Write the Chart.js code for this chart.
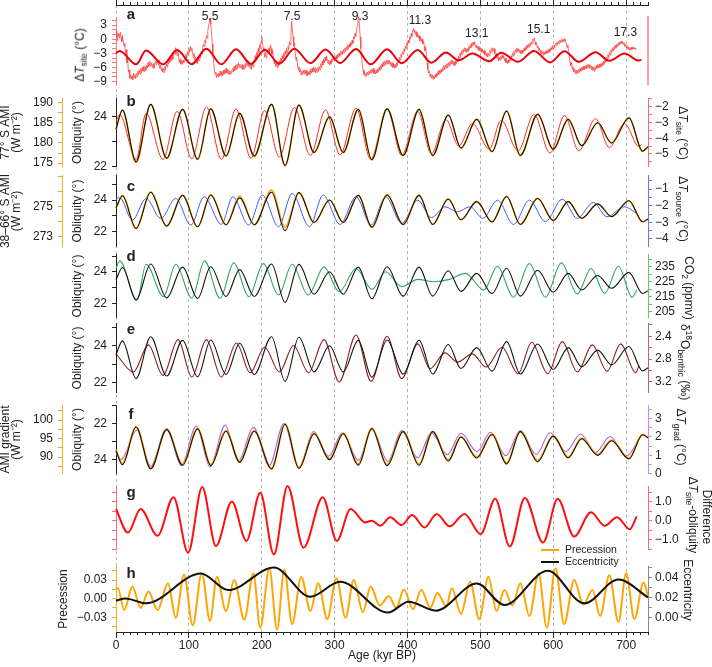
<!DOCTYPE html>
<html>
<head>
<meta charset="utf-8">
<script src="https://cdn.jsdelivr.net/npm/chart.js@4.4.1/dist/chart.umd.min.js"></script>
<style>
html, body { margin: 0; padding: 0; background: #fff; }
#fig { position: relative; width: 712px; height: 667px; overflow: hidden; font-family: "Liberation Sans", Arial, sans-serif; color: #222; }
#fig canvas { position: absolute; left: 0; }
.t { position: absolute; white-space: nowrap; font-size: 12px; line-height: 1; z-index: 3; }
.rl { transform: translate(-50%, -50%) rotate(-90deg); }
.rr { transform: translate(-50%, -50%) rotate(90deg); }
.t sub { font-size: 8.5px; vertical-align: -3px; }
.t sup { font-size: 8.5px; vertical-align: 5px; }
.lab { position: absolute; font-weight: bold; font-size: 15px; line-height: 1; transform: translate(-50%, -50%); z-index: 3; }
.leg { position: absolute; height: 2px; width: 18px; z-index: 3; }
</style>
</head>
<body>
<div id="fig">
  <div class="lab" style="left:131px;top:13px">a</div>
  <div class="lab" style="left:131px;top:100px">b</div>
  <div class="lab" style="left:131px;top:185px">c</div>
  <div class="lab" style="left:131px;top:255px">d</div>
  <div class="lab" style="left:131px;top:328px">e</div>
  <div class="lab" style="left:131px;top:413px">f</div>
  <div class="lab" style="left:131px;top:491px">g</div>
  <div class="lab" style="left:131px;top:572px">h</div>

  <div class="t rl" style="left:81px;top:55px">Δ<i>T</i><sub>site</sub> (°C)</div>
  <div class="t rr" style="left:682px;top:133px">Δ<i>T</i><sub>site</sub> (°C)</div>
  <div class="t rr" style="left:682px;top:209px">Δ<i>T</i><sub>source</sub> (°C)</div>
  <div class="t rr" style="left:688px;top:288px">CO<sub>2</sub> (ppmv)</div>
  <div class="t rr" style="left:685px;top:362px">δ<sup>18</sup>O<sub>benthic</sub> (‰)</div>
  <div class="t rr" style="left:680px;top:437px">Δ<i>T</i><sub>grad</sub> (°C)</div>
  <div class="t rr" style="left:707px;top:517px">Difference</div>
  <div class="t rr" style="left:692px;top:515px">Δ<i>T</i><sub>site</sub>-obliquity</div>
  <div class="t rr" style="left:688px;top:590px">Eccentricity</div>

  <div class="leg" style="left:541px;top:549px;background:#ffa500"></div>
  <div class="t" style="left:565px;top:544px;font-size:10.5px">Precession</div>
  <div class="leg" style="left:541px;top:561px;background:#111"></div>
  <div class="t" style="left:565px;top:556px;font-size:10.5px">Eccentricity</div>
</div>
<script>
// ---------- data (age in kyr BP) ----------

// panel a: site temperature anomaly, one value per kyr from 0 kyr
const dTsite = [
  0.5,1.8,-0.3,1.2,0.6,0.2,1.5,0.4,-0.5,0.8,
  -0.6,-1.5,-0.8,-3.0,-2.2,-5.0,-4.2,-7.0,-6.5,-8.3,
  -7.6,-8.5,-7.8,-8.6,-7.2,-8.2,-7.5,-8.4,-7.3,-8.0,
  -6.8,-7.6,-6.5,-7.5,-6.2,-7.2,-6.0,-6.8,-5.8,-6.9,
  -5.8,-6.6,-5.5,-6.1,-5.0,-5.8,-4.7,-5.7,-4.9,-5.5,
  -6.0,-5.2,-6.2,-5.4,-4.7,-5.4,-4.2,-5.1,-4.4,-5.5,
  -6.2,-5.5,-6.7,-6.0,-7.0,-6.2,-7.1,-5.8,-6.5,-5.2,
  -5.9,-4.6,-5.3,-4.1,-4.9,-3.8,-4.6,-3.4,-4.3,-2.9,
  -2.3,-3.2,-1.8,-2.8,-3.5,-2.6,-4.0,-5.0,-4.2,-5.3,
  -4.6,-5.4,-4.5,-5.0,-3.8,-4.5,-3.2,-4.0,-2.6,-3.3,
  -2.0,-2.8,-1.5,-2.5,-1.8,-3.0,-3.8,-3.0,-4.5,-3.8,
  -5.0,-4.2,-5.2,-4.0,-4.6,-3.4,-3.9,-2.6,-3.2,-1.8,
  -1.0,-1.6,-0.2,-0.8,0.8,0.2,1.8,2.8,3.5,4.5,
  3.2,1.5,-1.0,-3.0,-5.0,-6.5,-7.5,-7.0,-8.2,-7.4,
  -8.0,-7.2,-7.9,-6.8,-7.7,-7.0,-7.8,-6.6,-7.5,-6.5,
  -7.3,-6.2,-7.2,-6.4,-7.4,-6.6,-7.6,-6.8,-7.3,-6.6,
  -6.2,-7.0,-5.8,-6.7,-5.5,-6.4,-5.3,-6.2,-5.0,-6.0,
  -5.3,-5.9,-6.2,-5.4,-6.5,-5.6,-6.3,-5.2,-6.0,-4.8,
  -5.6,-4.5,-5.8,-5.0,-6.2,-5.5,-6.4,-5.2,-5.9,-4.5,
  -5.0,-3.5,-4.2,-2.8,-3.5,-2.0,-2.8,-1.2,-2.0,-0.5,
  0.5,-0.8,-1.8,-2.5,-3.8,-2.8,-4.0,-3.0,-2.2,-3.0,
  -1.8,-2.6,-1.2,-2.0,-3.2,-2.4,-4.0,-5.2,-4.5,-5.8,
  -5.0,-6.0,-5.2,-5.8,-4.6,-5.3,-4.0,-4.8,-3.5,-4.2,
  -3.0,-3.8,-2.5,-3.2,-2.0,-2.8,-1.5,-2.2,-0.5,-1.2,
  1.0,3.8,2.0,0.5,-1.5,-0.8,-3.0,-4.5,-3.8,-5.5,
  -6.5,-5.8,-7.0,-6.3,-7.6,-6.8,-7.5,-6.6,-7.4,-6.5,
  -7.3,-6.6,-7.8,-7.0,-7.6,-6.8,-7.5,-6.4,-7.2,-6.2,
  -7.0,-6.0,-6.8,-6.0,-7.2,-6.3,-7.0,-6.0,-6.8,-5.8,
  -6.5,-5.2,-6.0,-4.6,-5.5,-4.2,-5.0,-3.8,-4.6,-3.5,
  -4.5,-5.2,-4.4,-5.5,-4.6,-5.3,-4.2,-4.8,-3.6,-4.4,
  -3.8,-4.5,-3.5,-4.2,-3.2,-3.9,-3.0,-3.6,-2.6,-3.3,
  -2.5,-3.2,-2.2,-2.9,-1.9,-2.6,-1.6,-2.3,-1.2,-2.0,
  -1.0,-1.7,-0.6,-1.3,-0.2,-0.9,0.5,0.0,1.2,0.6,
  2.0,3.0,4.0,4.8,3.2,0.5,-2.0,-4.0,-5.5,-6.5,
  -7.5,-6.8,-8.0,-7.2,-7.8,-7.0,-7.6,-6.8,-7.4,-6.5,
  -7.2,-6.4,-7.0,-6.2,-7.3,-6.5,-7.4,-6.6,-7.2,-6.3,
  -7.0,-6.0,-6.6,-5.6,-6.3,-5.2,-5.9,-4.8,-5.6,-4.6,
  -5.4,-4.5,-5.3,-4.4,-5.2,-4.5,-5.4,-4.8,-5.8,-5.0,
  -6.0,-5.2,-6.2,-5.4,-6.0,-5.0,-5.6,-4.4,-5.0,-3.8,
  -4.4,-3.2,-3.8,-2.6,-3.2,-2.0,-2.6,-1.4,-2.0,-0.8,
  -1.4,-0.2,-0.8,0.5,0.0,1.2,0.6,1.8,2.3,1.5,
  2.0,1.0,1.6,0.5,1.2,0.2,0.8,-0.3,0.4,-0.6,
  0.1,-1.0,-0.4,-1.5,-2.5,-1.8,-3.5,-5.0,-6.5,-7.2,
  -6.8,-8.0,-7.4,-8.3,-7.6,-8.5,-7.8,-8.4,-7.5,-8.1,
  -7.2,-7.8,-6.8,-7.5,-6.6,-7.3,-6.4,-7.0,-6.0,-6.6,
  -5.6,-6.4,-5.5,-6.2,-5.2,-6.0,-5.0,-5.8,-4.8,-5.4,
  -4.5,-5.2,-4.6,-5.5,-4.8,-5.6,-4.6,-5.2,-4.2,-4.8,
  -3.6,-4.3,-3.0,-3.7,-2.5,-3.2,-2.2,-2.8,-1.8,-2.6,
  -1.9,-2.8,-2.0,-2.6,-1.6,-2.2,-1.2,-1.8,-0.8,-1.5,
  -0.6,-1.2,-0.5,-1.4,-1.8,-1.2,-2.0,-1.5,-2.4,-1.8,
  -2.6,-2.0,-2.8,-2.2,-3.0,-2.4,-3.3,-2.6,-3.6,-2.9,
  -3.8,-3.0,-3.5,-2.4,-3.0,-2.0,-2.6,-1.8,-2.5,-2.0,
  -3.0,-3.6,-3.0,-4.2,-3.6,-4.6,-3.8,-4.5,-3.6,-4.2,
  -3.4,-4.0,-3.5,-4.6,-4.0,-5.0,-4.3,-5.2,-4.4,-5.0,
  -4.0,-4.6,-3.5,-4.0,-3.0,-3.6,-2.6,-3.2,-2.2,-2.8,
  -1.9,-2.6,-2.0,-2.8,-2.2,-3.0,-2.4,-3.1,-2.3,-2.8,
  -1.9,-2.5,-1.6,-2.2,-1.3,-1.9,-1.0,-1.6,-0.8,-1.3,
  -0.5,-1.0,0.0,-0.3,0.3,-0.6,-1.2,-0.8,-1.8,-1.4,
  -2.4,-1.9,-2.9,-2.3,-3.2,-2.6,-3.4,-2.7,-3.3,-2.6,
  -3.1,-2.4,-3.0,-2.2,-2.8,-2.0,-2.6,-1.8,-2.2,-1.4,
  -2.0,-1.2,-1.8,-0.9,-1.4,-0.6,-1.1,-0.4,-0.9,-0.2,
  -0.7,-0.1,-0.6,0.0,-0.5,0.1,-0.4,-0.2,-0.9,-1.8,
  -1.2,-2.6,-3.8,-4.8,-5.6,-5.0,-6.4,-5.8,-7.0,-6.3,
  -7.3,-6.5,-7.4,-6.6,-7.2,-6.4,-7.0,-6.2,-6.8,-6.0,
  -6.6,-5.8,-6.5,-5.7,-6.4,-5.6,-6.2,-5.4,-6.0,-5.3,
  -6.2,-5.5,-6.4,-5.7,-6.6,-5.9,-6.8,-6.0,-6.5,-5.6,
  -6.2,-5.4,-6.1,-5.3,-6.0,-5.2,-5.8,-5.0,-5.6,-4.7,
  -5.3,-4.3,-4.9,-3.8,-4.4,-3.3,-3.9,-2.8,-3.4,-2.3,
  -2.9,-1.9,-2.5,-1.6,-2.2,-1.3,-1.9,-1.1,-1.6,-0.8,
  -1.3,-0.6,-1.0,-0.4,-0.9,-0.5,-1.1,-0.7,-1.5,-1.0,
  -1.8,-1.3,-2.1,-1.6,-2.3,-1.8,-2.3,-1.7,-2.2,-1.6,
  -2.0,-1.8,-2.1,-1.9,-2.2
];
const siteAge = dTsite.map((_, i) => i);

// interglacial labels in panel a
const peakNames = ['5.5', '7.5', '9.3', '11.3', '13.1', '15.1', '17.3'];
const peakAge = [129, 241.5, 335, 417, 495, 580, 699];

// obliquity turning points and the insolation series that follow it
const oblAge = [0, 8.8, 27.5, 47.6, 69.5, 91.4, 112, 130, 151, 169.7, 189.7, 213.5, 232, 251, 271.8, 293, 311.8,
  332.5, 351, 372, 394, 415.8, 434.6, 455.9, 473.4, 495, 516, 536, 554.8, 578.6, 600, 620.5, 639, 661, 680, 703.8, 722.6, 730];
const obliquity = [23.5, 24.27, 22.2, 24.5, 22.34, 24.3, 22.3, 24.32, 22.43, 24.14, 22.43, 24.5, 22.05, 24.47, 22.57, 24.0, 22.57,
  24.3, 22.28, 24.32, 22.45, 24.3, 22.45, 24.07, 22.75, 23.9, 22.61, 24.23, 22.45, 24.1, 22.7, 23.9, 22.84, 23.76, 22.95, 23.96, 22.62, 22.8];
const ami77 = [183.36, 188.13, 175.1, 189.56, 176.17, 188.32, 175.92, 188.44, 176.73, 187.33, 176.6, 189.56, 174.3, 189.37, 177.59, 186.46, 177.59,
  188.32, 175.8, 188.44, 176.85, 188.32, 176.85, 186.89, 178.71, 185.84, 177.84, 187.89, 176.85, 187.08, 178.4, 185.84, 179.27, 184.97, 179.95, 186.21, 177.9, 179.02];
const ami3866 = [274.91, 275.73, 273.54, 275.97, 273.69, 275.76, 273.64, 275.78, 273.78, 275.70, 273.78, 276.10, 273.62, 275.94, 273.93, 275.44, 273.93,
  275.76, 273.62, 275.78, 273.80, 275.76, 273.80, 275.51, 274.12, 275.33, 273.97, 275.68, 273.80, 275.55, 274.07, 275.33, 274.22, 275.19, 274.33, 275.40, 273.98, 274.17];
const amiGrad = [91.94, 88.26, 98.15, 87.0, 97.48, 88.12, 97.68, 88.02, 97.05, 88.88, 97.05, 86.9, 98.87, 87.2, 96.39, 89.55, 96.39,
  88.12, 97.77, 88.02, 96.96, 88.12, 96.96, 89.22, 95.52, 90.03, 96.19, 88.45, 96.96, 89.07, 95.76, 90.03, 95.09, 90.70, 94.57, 89.74, 96.15, 95.29];

// 41-kyr filtered site temperature (panels a, b)
const dtsAge = [0, 5, 27.6, 41.3, 64.5, 83.9, 104, 124, 144.6, 164.7, 185.3, 204, 224.2, 244.8, 266.8, 287.4, 307.5, 329.4, 349.4,
  372, 392, 414, 432.7, 452.7, 470.3, 489, 512.2, 528.5, 551.7, 573.6, 595.5, 615.5, 635, 658, 676.9, 697.6, 717.6, 721];
const dtsFilt = [-2.96, -2.49, -5.35, -2.41, -5.35, -2.29, -5.31, -2.0, -5.35, -2.14, -5.27, -2.24, -5.2, -2.04, -5.1, -2.2, -5.06, -2.08, -5.35,
  -2.14, -5.1, -2.29, -5.0, -2.82, -4.49, -3.06, -4.69, -2.86, -4.8, -2.49, -4.94, -2.55, -4.8, -2.76, -4.59, -3.06, -4.53, -4.4];

// panel c: source temperature
const srcAge = [0, 5, 22.5, 41.3, 61.4, 82, 102.7, 120.9, 144.6, 160.3, 182, 201, 223, 241.7, 265.5, 284.3, 307.5, 329.4, 350,
  370, 392, 414, 432.7, 451.5, 468.4, 486, 503.4, 523.5, 545.4, 567.3, 589.2, 612.4, 633, 655, 673.8, 697.6, 714.5];
const dtSource = [-1.6, -1.5, -2.86, -1.56, -2.76, -1.56, -3.16, -1.46, -3.12, -1.46, -3.16, -1.36, -3.26, -1.26, -3.26, -1.36, -3.12, -1.46, -3.16,
  -1.46, -3.06, -1.66, -2.72, -2.06, -2.36, -2.06, -2.76, -1.66, -3.12, -1.66, -2.96, -1.6, -2.76, -1.8, -2.66, -2.06, -2.46];

// panel d: CO2
const co2Age = [0, 5, 28.8, 41.3, 65.1, 82, 104, 121.5, 142.8, 161.6, 182.2, 202.3, 223, 241.7, 263.6, 285.5, 306.2, 329.4, 351.3,
  370, 392, 414, 435.8, 457.7, 479.6, 504.7, 523.5, 545.4, 567.3, 589.2, 611.1, 633, 651.8, 670.6, 689.4, 708.2, 714.5];
const co2 = [233.9, 239, 212.8, 236.8, 215, 236.8, 213.9, 239, 213.9, 237.7, 215, 237.2, 216.1, 236.8, 216.1, 235, 218.3, 233.9, 219.9,
  231.7, 221.7, 226.6, 225, 226.6, 230.6, 219.4, 235.4, 214.6, 237.2, 214.6, 237.7, 216.8, 233.9, 217.2, 235.4, 214.6, 219.4];

// panel e: benthic d18O
const d18Age = [0, 23.8, 44.5, 64.5, 85.2, 104, 124, 144.6, 165.3, 184, 204, 224.2, 243.6, 264.2, 285.5, 306.2, 329.4, 350, 372,
  392, 414, 430.8, 451.5, 468.4, 489, 507.8, 529.7, 551.7, 570.4, 592.4, 612.4, 633, 653.7, 673.8, 692.5, 713.2, 717.6];
const d18O = [2.707, 3.026, 2.55, 3.084, 2.458, 3.113, 2.458, 3.113, 2.516, 3.038, 2.591, 3.026, 2.562, 3.038, 2.458, 3.2, 2.377, 3.188, 2.4,
  3.142, 2.533, 2.968, 2.69, 2.852, 2.707, 2.939, 2.591, 3.055, 2.504, 3.055, 2.493, 3.026, 2.55, 3.014, 2.533, 3.038, 2.91];

// panel f: temperature gradient
const gradAge = [0, 6.9, 28.8, 47.6, 69.5, 89.5, 110.2, 129, 149.7, 167.8, 188.5, 210.4, 230.4, 251, 271.1, 291.8, 310.6, 332.5, 351.3,
  373.2, 392, 414, 432.7, 454.6, 473.4, 495.3, 514.1, 534.8, 554.8, 576.7, 595.5, 617.4, 637.4, 658.1, 678.1, 700, 720.7];
const dtGrad = [1.125, 0.77, 2.375, 0.41, 2.46, 0.45, 2.59, 0.375, 2.64, 0.68, 2.52, 0.45, 2.73, 0.32, 2.29, 0.95, 2.23, 0.73, 2.41,
  0.68, 2.34, 0.86, 2.23, 1.04, 2.2, 1.21, 2.25, 0.98, 2.34, 1.04, 2.23, 1.21, 2.16, 1.16, 2.02, 0.95, 2.1];

// panel g: site temperature minus obliquity
const diffAge = [0, 16.3, 33.8, 57, 78.9, 98.9, 118.3, 137.1, 159, 179, 197.9, 216.7, 235.4, 257.4, 283.7, 303, 321.9, 341.9, 351.3, 362.6,
  376.3, 392, 406.4, 423.3, 440.2, 457.7, 478.4, 500.3, 520.4, 540.4, 561, 586, 606.1, 628.7, 651.8, 670.6, 687.5, 705, 714.5];
const diffVal = [0.62, -0.63, 0.62, -0.8, 1.25, -1.7, 1.79, -1.34, 1.02, -1.07, 1.48, -1.79, 1.84, -1.43, 1.25, -1.07, 0.62, -0.09, 0.0, -0.27,
  0.18, -0.23, 0.3, -0.36, 0.36, -0.3, 0.36, -0.71, 1.16, -1.37, 1.21, -1.16, 1.16, -0.84, 0.45, -0.27, 0.18, -0.45, 0.23];

// panel h: precession and eccentricity
const precAge = [0, 2.5, 11.3, 22.5, 33.8, 44.5, 57, 71.4, 82, 93.3, 105.2, 117.7, 129, 138.4, 150.9, 162.2, 176, 188.5, 197.9, 210.4,
  221, 231, 241.7, 254.2, 266.8, 277.4, 289.9, 302.4, 315, 326.2, 338.8, 349.4, 361.9, 374.5, 384.5, 395.1, 407.6, 418.9, 431.4, 440.8,
  453.3, 460.9, 473.4, 485.9, 498.4, 511, 522.2, 532.9, 544.1, 554.8, 567.3, 579.8, 591.1, 603, 614.9, 628.7, 641.2, 653.7, 664.4, 676.9,
  689.4, 700, 711.3, 723.9, 730];
const precession = [0.016, 0.017, -0.0185, 0.0196, -0.015, 0.0116, -0.0185, 0.025, -0.031, 0.039, -0.043, 0.041, -0.036, 0.035, -0.02, 0.03, -0.034, 0.041, -0.047, 0.049,
  -0.05, 0.047, -0.041, 0.035, -0.02, 0.025, -0.033, 0.033, -0.031, 0.03, -0.022, 0.0196, -0.011, 0.004, -0.015, 0.015, -0.017, 0.014, -0.015, 0.009,
  -0.012, 0.017, -0.025, 0.0275, -0.033, 0.035, -0.02, 0.014, -0.011, 0.025, -0.028, 0.041, -0.047, 0.049, -0.041, 0.03, -0.0095, 0.014, -0.028, 0.038,
  -0.0376, 0.041, -0.033, 0.026, 0.0037];
const eccAge = [0, 13, 41, 116.5, 154, 216.7, 266.8, 307.5, 373.2, 401.4, 439, 495.3, 532.9, 592.4, 642.5, 689.4, 730];
const eccentricity = [0.017, 0.0193, 0.0143, 0.0443, 0.0277, 0.0503, 0.021, 0.036, 0.005, 0.016, 0.007, 0.0343, 0.0127, 0.047, 0.0143, 0.0383, 0.0203];

// tick values and labelled values of every axis
const ageTicks = Array.from({length: 74}, (_, i) => i * 10);
const ageLabels = [0, 100, 200, 300, 400, 500, 600, 700];
const tkA = [-9, -8, -7, -6, -5, -4, -3, -2, -1, 0, 1, 2, 3, 4], lbA = [-9, -6, -3, 0, 3];
const tkAmi77 = [175, 177.5, 180, 182.5, 185, 187.5, 190], lbAmi77 = [175, 180, 185, 190];
const tkOblB = [22, 23, 24], tkObl = [22, 23, 24, 25], tkOblF = [21, 22, 23, 24], lbObl = [22, 24];
const tkDts = [-5.5, -5, -4.5, -4, -3.5, -3, -2.5, -2, -1.5], lbDts = [-5, -4, -3, -2];
const tkAmi38 = [273, 274, 275, 276, 277], lbAmi38 = [273, 275];
const tkSrc = [-4, -3.5, -3, -2.5, -2, -1.5, -1, -0.5], lbSrc = [-4, -3, -2, -1];
const tkCo2 = [205, 210, 215, 220, 225, 230, 235, 240], lbCo2 = [205, 215, 225, 235];
const tkD18 = [2.2, 2.4, 2.6, 2.8, 3.0, 3.2], lbD18 = [2.4, 2.8, 3.2];
const tkAmiG = [87.5, 90, 92.5, 95, 97.5, 100, 102.5], lbAmiG = [90, 95, 100];
const tkGrad = [0, 0.5, 1, 1.5, 2, 2.5, 3, 3.5], lbGrad = [0, 1, 2, 3];
const tkDiff = [-1.5, -1, -0.5, 0, 0.5, 1, 1.5], lbDiff = [-1, 0, 1];
const tkPrec = [-0.045, -0.03, -0.015, 0, 0.015, 0.03, 0.045], lbPrec = [-0.03, 0, 0.03];
const tkEcc = [0, 0.01, 0.02, 0.03, 0.04, 0.05], lbEcc = [0, 0.02, 0.04];

// ---------- drawing ----------
const FONT = '"Liberation Sans", Arial, Helvetica, sans-serif';
Chart.defaults.font.family = FONT;
Chart.defaults.font.size = 12;
Chart.defaults.color = '#222';

const fig = document.getElementById('fig');
const AMI = '#f6ad22', OBL = '#111';
const pts = (xs, ys) => ys.map((y, i) => ({x: xs[i], y: y}));
const fmt = (v, d) => (v < 0 ? '\u2212' : '') + Math.abs(v).toFixed(d);

function yAxis(o) {
  return {
    type: 'linear', position: o.pos, min: o.min, max: o.max, reverse: !!o.rev, weight: o.weight || 0,
    afterBuildTicks: s => { s.ticks = (o.ticks || [o.min]).map(v => ({value: v})); },
    afterFit: s => { s.width = o.width; },
    border: {color: o.color, width: o.bw || 1},
    grid: {drawOnChartArea: false, drawTicks: !!o.ticks, tickLength: 4, color: o.color, tickColor: o.color},
    ticks: {
      display: !!o.labels, padding: o.tp == null ? 3 : o.tp, autoSkip: false, maxRotation: 0, color: '#222',
      callback: v => {
        const m = (o.labels || []).find(l => Math.abs(l - v) < 1e-9);
        return m === undefined ? '' : fmt(m, o.dec || 0);
      }
    },
    title: o.title
      ? {display: true, text: o.title, color: '#222', padding: {top: o.tpad || 0, bottom: 0}, font: {size: 12, lineHeight: o.lh || 1}}
      : {display: false}
  };
}

function line(xs, ys, axis, color, w, smooth) {
  return {
    data: pts(xs, ys), yAxisID: axis, borderColor: color, borderWidth: w, pointRadius: 0,
    clip: false, fill: false, tension: 0, cubicInterpolationMode: smooth ? 'monotone' : 'default'
  };
}

function panel(top, bottom, padL, scales, datasets, plugins) {
  const P = 12;
  const cv = document.createElement('canvas');
  cv.width = 712;
  cv.height = bottom - top + 2 * P;
  cv.style.top = (top - P) + 'px';
  fig.appendChild(cv);
  return new Chart(cv, {
    type: 'line',
    data: {datasets: datasets},
    options: {
      responsive: false, animation: false, devicePixelRatio: 1, events: [],
      layout: {padding: {top: P, bottom: P, left: padL, right: 0}},
      plugins: {legend: {display: false}, tooltip: {enabled: false}},
      elements: {line: {capBezierPoints: false}},
      scales: Object.assign({x: {type: 'linear', min: 0, max: 730, display: false}}, scales)
    },
    plugins: plugins || []
  });
}

// background: dashed age lines, top and bottom age axes
const majorTicks = {
  id: 'majorTicks',
  afterDraw(chart) {
    const {ctx, chartArea: {top, bottom}} = chart;
    const x = chart.scales.x;
    ctx.save();
    ctx.strokeStyle = '#222';
    ctx.lineWidth = 1;
    ageLabels.forEach(v => {
      const px = Math.round(x.getPixelForValue(v) - 0.5) + 0.5;
      ctx.beginPath();
      ctx.moveTo(px, top); ctx.lineTo(px, top - 5);
      ctx.moveTo(px, bottom); ctx.lineTo(px, bottom + 6);
      ctx.stroke();
    });
    ctx.restore();
  }
};
(function () {
  const cv = document.createElement('canvas');
  cv.width = 712; cv.height = 667; cv.style.top = '0px';
  fig.appendChild(cv);
  const ageAxis = (pos, h) => ({
    type: 'linear', position: pos, min: 0, max: 730,
    afterBuildTicks: s => { s.ticks = ageTicks.map(v => ({value: v})); },
    afterFit: s => { s.height = h; },
    border: {color: '#222', width: 1, dash: [3, 3]},
    grid: {
      drawOnChartArea: pos === 'bottom', tickLength: 3, tickColor: '#222', lineWidth: 1,
      color: c => (c.tick && c.tick.value % 100 === 0) ? '#b4b4b4' : 'rgba(0,0,0,0)'
    },
    ticks: {
      display: pos === 'bottom', autoSkip: false, maxRotation: 0, padding: 3, color: '#222',
      callback: v => ageLabels.includes(v) ? String(v) : ''
    },
    title: pos === 'bottom'
      ? {display: true, text: 'Age (kyr BP)', color: '#222', padding: {top: 0, bottom: 4}, font: {size: 12}}
      : {display: false}
  });
  new Chart(cv, {
    type: 'line',
    data: {datasets: []},
    options: {
      responsive: false, animation: false, devicePixelRatio: 1, events: [],
      layout: {padding: {left: 116, right: 64, top: 0, bottom: 0}},
      plugins: {legend: {display: false}, tooltip: {enabled: false}},
      scales: {x: ageAxis('bottom', 35), x2: ageAxis('top', 5), y: {display: false, min: 0, max: 1}}
    },
    plugins: [majorTicks]
  });
})();

// panel a with interglacial labels
const peakPlugin = {
  id: 'peakLabels',
  afterDatasetsDraw(chart) {
    const {ctx} = chart;
    const x = chart.scales.x, y = chart.scales.yL;
    ctx.save();
    ctx.font = '12px ' + FONT;
    ctx.fillStyle = '#222';
    ctx.textAlign = 'center';
    ctx.textBaseline = 'middle';
    peakNames.forEach((name, i) => {
      let top = -Infinity;
      dTsite.forEach((v, k) => { if (Math.abs(siteAge[k] - peakAge[i]) <= 10 && v > top) top = v; });
      const py = Math.max(y.getPixelForValue(top) - 8, 12);
      ctx.fillText(name, x.getPixelForValue(peakAge[i]), py);
    });
    ctx.restore();
  }
};
panel(17, 85, 62, {
  yL: yAxis({pos: 'left', min: -9.7, max: 4.69, width: 54, color: '#ff7474', ticks: tkA, labels: lbA, tp: 5}),
  yR: yAxis({pos: 'right', min: -9.7, max: 4.69, width: 64, color: '#ff9e9e', bw: 2})
}, [
  line(dtsAge, dtsFilt, 'yL', '#e8000b', 2, true),
  line(siteAge, dTsite, 'yL', 'rgba(255,70,70,0.78)', 1, false)
], [peakPlugin]);

// panel b
panel(98, 167, 0, {
  yA: yAxis({pos: 'left', weight: 1, min: 174.1, max: 191.05, width: 62, color: AMI, ticks: tkAmi77, labels: lbAmi77, tp: 5,
    title: ['77° S AMI', '(W m\u207B\u00B2)'], lh: 0.9}),
  yO: yAxis({pos: 'left', weight: 0, min: 21.99, max: 24.75, width: 54, color: '#222', ticks: tkOblB, labels: lbObl, tp: 5,
    title: 'Obliquity (°)', tpad: 10}),
  yR: yAxis({pos: 'right', min: -5.82, max: -1.45, width: 64, color: '#ff6b6b', ticks: tkDts, labels: lbDts})
}, [
  line(oblAge, obliquity, 'yO', OBL, 1.1, true),
  line(oblAge, ami77, 'yA', '#ffa500', 1.6, true),
  line(dtsAge, dtsFilt, 'yR', '#ff2b2b', 1, true)
]);

// panel c
panel(175, 247, 0, {
  yA: yAxis({pos: 'left', weight: 1, min: 272.3, max: 277.1, width: 62, color: AMI, ticks: tkAmi38, labels: lbAmi38, tp: 5,
    title: ['38\u201366° S AMI', '(W m\u207B\u00B2)'], lh: 0.9}),
  yO: yAxis({pos: 'left', weight: 0, min: 21.03, max: 25.58, width: 54, color: '#222', ticks: tkObl, labels: lbObl, tp: 5,
    title: 'Obliquity (°)', tpad: 10}),
  yR: yAxis({pos: 'right', min: -4.47, max: -0.16, width: 64, color: '#5c78ff', ticks: tkSrc, labels: lbSrc})
}, [
  line(oblAge, obliquity, 'yO', OBL, 1.1, true),
  line(oblAge, ami3866, 'yA', '#ffa500', 1.6, true),
  line(srcAge, dtSource, 'yR', '#3b5bff', 1, true)
]);

// panel d
panel(254, 318, 62, {
  yO: yAxis({pos: 'left', min: 21.07, max: 25.12, width: 54, color: '#222', ticks: tkObl, labels: lbObl, tp: 5,
    title: 'Obliquity (°)', tpad: 10}),
  yR: yAxis({pos: 'right', min: 200.8, max: 243.5, width: 64, color: '#6cc46c', ticks: tkCo2, labels: lbCo2})
}, [
  line(oblAge, obliquity, 'yO', OBL, 1.1, true),
  line(co2Age, co2, 'yR', '#2fa565', 1.1, true)
]);

// panel e
panel(323, 393, 62, {
  yO: yAxis({pos: 'left', min: 21.42, max: 25.24, width: 54, color: '#222', ticks: tkObl, labels: lbObl, tp: 5,
    title: 'Obliquity (°)', tpad: 10}),
  yR: yAxis({pos: 'right', rev: true, min: 2.17, max: 3.39, width: 64, color: '#b46a6a', ticks: tkD18, labels: lbD18, dec: 1})
}, [
  line(oblAge, obliquity, 'yO', OBL, 1.1, true),
  line(d18Age, d18O, 'yR', '#8e1b1b', 1.1, true)
]);

// panel f
panel(405, 474, 0, {
  yA: yAxis({pos: 'left', weight: 1, min: 85.5, max: 104.0, width: 62, color: AMI, ticks: tkAmiG, labels: lbAmiG, tp: 5,
    title: ['AMI gradient', '(W m\u207B\u00B2)'], lh: 0.9}),
  yO: yAxis({pos: 'left', weight: 0, rev: true, min: 21.0, max: 24.77, width: 54, color: '#222', ticks: tkOblF, labels: lbObl, tp: 5,
    title: 'Obliquity (°)', tpad: 10}),
  yR: yAxis({pos: 'right', min: 0, max: 3.72, width: 64, color: '#b98cf7', ticks: tkGrad, labels: lbGrad})
}, [
  line(oblAge, obliquity, 'yO', OBL, 1.1, true),
  line(oblAge, amiGrad, 'yA', '#ffa500', 1.8, true),
  line(gradAge, dtGrad, 'yR', '#a563f2', 1.1, true)
]);

// panel g
panel(486, 549, 62, {
  yL: yAxis({pos: 'left', min: -1.5, max: 1.84, width: 54, color: '#ff6b6b', ticks: tkDiff}),
  yR: yAxis({pos: 'right', min: -1.5, max: 1.84, width: 64, color: '#ff6b6b', ticks: tkDiff, labels: lbDiff, dec: 1})
}, [
  line(diffAge, diffVal, 'yR', '#ff1010', 2, true)
]);

// panel h
panel(566, 632, 46, {
  yL: yAxis({pos: 'left', min: -0.0536, max: 0.0525, width: 70, color: AMI, ticks: tkPrec, labels: lbPrec, dec: 2, tp: 5,
    title: 'Precession', tpad: 12}),
  yR: yAxis({pos: 'right', min: -0.0143, max: 0.0517, width: 64, color: '#8a8a8a', ticks: tkEcc, labels: lbEcc, dec: 2})
}, [
  line(eccAge, eccentricity, 'yR', '#111', 2, true),
  line(precAge, precession, 'yL', '#ffa500', 2, true)
]);
</script>
</body>
</html>
